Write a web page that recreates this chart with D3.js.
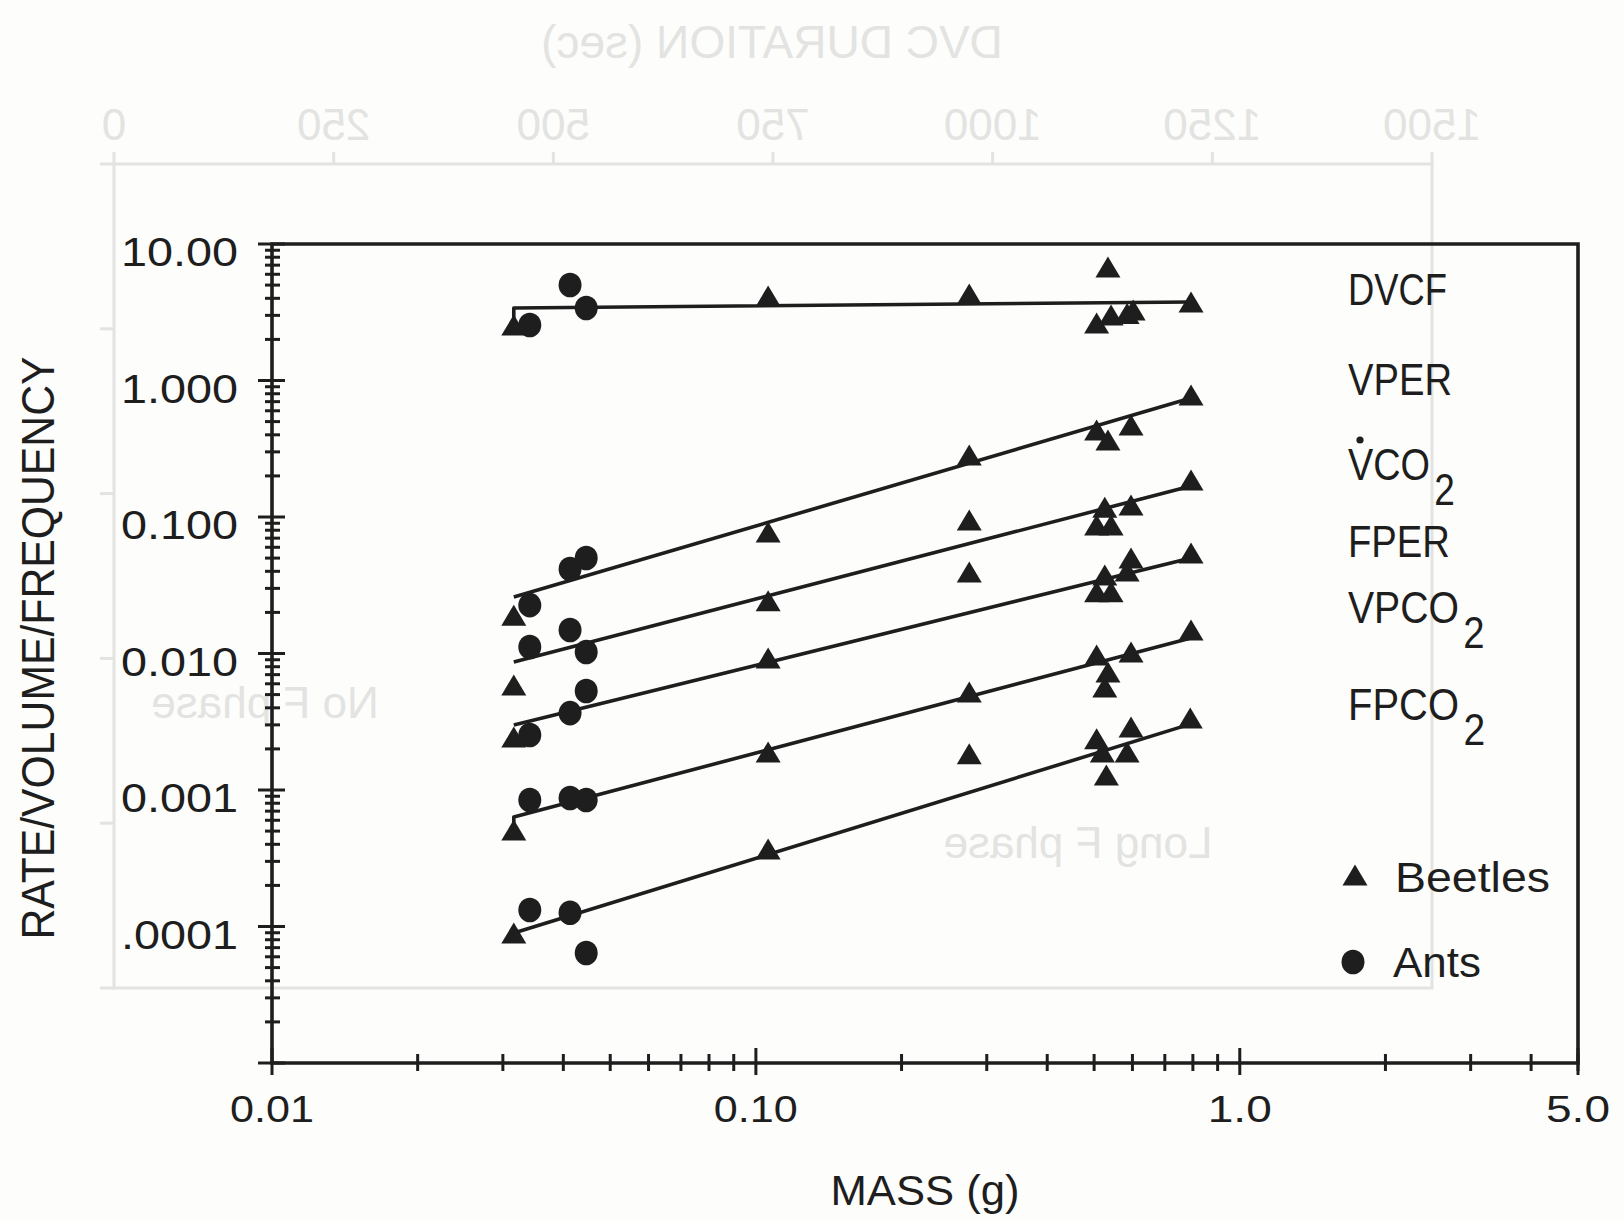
<!DOCTYPE html>
<html>
<head>
<meta charset="utf-8">
<title>Rate / volume / frequency vs mass</title>
<script src="https://cdn.jsdelivr.net/npm/d3@7/dist/d3.min.js"></script>
<style>
    html, body { margin: 0; padding: 0; background: #fdfdfc; }
    svg { display: block; }
    text { font-family: "Liberation Sans", Arial, sans-serif; fill: #1e1e1e; }
</style>
</head>
<body>
<div id="chart"></div>
<script>
/* --- Data (mass in g, value on log axis) --- */

// DVCF
const dvcfBeetles = [[0.0316, 2.55], [0.106, 4.16], [0.276, 4.31], [0.506, 2.64], [0.534, 6.78],
    [0.542, 3.02], [0.585, 3.10], [0.602, 3.28], [0.793, 3.76]];
const dvcfAnts = [[0.0341, 2.55], [0.0413, 5.01], [0.0446, 3.40]];
const dvcfFit = [[0.0316, 2.87], [0.0316, 3.40], [0.793, 3.76]];

// VPER
const vperBeetles = [[0.0316, 0.0191], [0.106, 0.0776], [0.276, 0.285], [0.506, 0.434],
    [0.534, 0.366], [0.596, 0.472], [0.793, 0.783]];
const vperAnts = [[0.0341, 0.0226], [0.0413, 0.0416], [0.0446, 0.0501]];
const vperFit = [[0.0316, 0.0259], [0.793, 0.745]];

// VCO2
const vco2Beetles = [[0.0316, 0.00588], [0.106, 0.0243], [0.276, 0.0951], [0.506, 0.0874],
    [0.526, 0.118], [0.542, 0.0874], [0.596, 0.1225], [0.793, 0.1866]];
const vco2Ants = [[0.0341, 0.01117], [0.0413, 0.01486], [0.0446, 0.01025]];
const vco2Fit = [[0.0316, 0.00867], [0.793, 0.1686]];

// FPER
const fperBeetles = [[0.0316, 0.00244], [0.106, 0.00927], [0.276, 0.0395], [0.506, 0.0283],
    [0.526, 0.0376], [0.542, 0.0283], [0.585, 0.0402], [0.596, 0.0501], [0.793, 0.0545]];
const fperAnts = [[0.0341, 0.00253], [0.0413, 0.00366], [0.0446, 0.00531]];
const fperFit = [[0.0316, 0.00299], [0.793, 0.0501]];

// VPCO2
const vpco2Beetles = [[0.0316, 0.000509], [0.106, 0.0019], [0.276, 0.00522], [0.506, 0.00975],
    [0.526, 0.00569], [0.534, 0.00731], [0.596, 0.01025], [0.793, 0.01486]];
const vpco2Ants = [[0.0341, 0.000845], [0.0413, 0.000873], [0.0446, 0.000845]];
const vpco2Fit = [[0.0316, 0.000536], [0.0316, 0.000634], [0.793, 0.0130]];

// FPCO2
const fpco2Beetles = [[0.0316, 0.0000895], [0.106, 0.00037], [0.276, 0.00184], [0.506, 0.00237],
    [0.52, 0.0019], [0.53, 0.00129], [0.585, 0.0019], [0.596, 0.0029], [0.79, 0.00337]];
const fpco2Ants = [[0.0341, 0.000132], [0.0413, 0.000126], [0.0446, 0.000064]];
const fpco2Fit = [[0.0316, 0.0000895], [0.793, 0.00305]];

// Axes
const xTickValues = [0.01, 0.1, 1, 5];
const xTickLabels = ["0.01", "0.10", "1.0", "5.0"];
const yTickValues = [10, 1, 0.1, 0.01, 0.001, 0.0001];
const yTickLabels = ["10.00", "1.000", "0.100", "0.010", "0.001", ".0001"];
const seriesNames = ["DVCF", "VPER", "VCO", "FPER", "VPCO", "FPCO"];
const seriesSubs = ["", "", "2", "", "2", "2"];
const groupNames = ["Beetles", "Ants"];

// faint print-through from the reverse side of the page (mirrored)
const ghostTicks = [0, 250, 500, 750, 1000, 1250, 1500];
const ghostLeftTicks = [0, 40, 80, 120, 160, 200];
const ghostTitle = "DVC DURATION (sec)";
const ghostNotes = ["No F phase", "Long F phase"];

/* --- Layout --- */
const CONFIG = {
    width: 1624,
    height: 1220,
    plot: { left: 272, right: 1578, top: 244, bottom: 1063 },
    ghost: { left: 114, right: 1432, top: 164, bottom: 988 },
    ink: '#1e1e1e',
    ghostInk: '#e3e3e1',
    stroke: 3.6,
    tri: { w: 25, h: 21 },
    dotR: 11.5
};

const Chart = {
    init() {
        const P = CONFIG.plot;
        this.svg = d3.select("#chart").append("svg")
            .attr("width", CONFIG.width)
            .attr("height", CONFIG.height)
            .attr("viewBox", `0 0 ${CONFIG.width} ${CONFIG.height}`);

        this.svg.append("rect")
            .attr("width", CONFIG.width).attr("height", CONFIG.height)
            .attr("fill", "#fdfdfc");

        this.x = d3.scaleLog().domain([0.01, 5]).range([P.left, P.right]);
        this.y = d3.scaleLog().domain([1e-5, 10]).range([P.bottom, P.top]);

        this.drawGhost();
        this.drawFrame();
        this.drawAxes();
        this.drawSeries();
        this.drawLabels();
    },

    // squeeze / stretch a text node to a target width
    fit(sel, len) {
        sel.attr("textLength", len).attr("lengthAdjust", "spacingAndGlyphs");
        return sel;
    },

    drawGhost() {
        const G = CONFIG.ghost;
        const g = this.svg.append("g");
        const gx = d3.scaleLinear().domain([0, 1500]).range([G.left, G.right]);
        const gy = d3.scaleLinear().domain([0, 200]).range([G.top, G.bottom]);

        g.append("rect")
            .attr("x", G.left).attr("y", G.top)
            .attr("width", G.right - G.left).attr("height", G.bottom - G.top)
            .attr("fill", "none")
            .attr("stroke", CONFIG.ghostInk)
            .attr("stroke-width", 3);

        g.selectAll(".gt").data(ghostTicks).enter().append("line")
            .attr("x1", d => gx(d)).attr("x2", d => gx(d))
            .attr("y1", G.top).attr("y2", G.top - 12)
            .attr("stroke", CONFIG.ghostInk).attr("stroke-width", 3);

        g.selectAll(".gl").data(ghostLeftTicks).enter().append("line")
            .attr("x1", G.left).attr("x2", G.left - 14)
            .attr("y1", d => gy(d)).attr("y2", d => gy(d))
            .attr("stroke", CONFIG.ghostInk).attr("stroke-width", 3);

        g.selectAll(".gtl").data(ghostTicks).enter().append("text")
            .attr("transform", d => `translate(${gx(d)},140) scale(-1,1)`)
            .attr("text-anchor", "middle")
            .attr("font-size", 44)
            .style("fill", CONFIG.ghostInk)
            .text(d => d);

        g.append("text")
            .attr("transform", "translate(772,58) scale(-1,1)")
            .attr("text-anchor", "middle")
            .attr("font-size", 46)
            .style("fill", CONFIG.ghostInk)
            .text(ghostTitle);

        [[265, 718], [1078, 858]].forEach((p, i) => {
            g.append("text")
                .attr("transform", `translate(${p[0]},${p[1]}) scale(-1,1)`)
                .attr("text-anchor", "middle")
                .attr("font-size", 44)
                .style("fill", CONFIG.ghostInk)
                .text(ghostNotes[i]);
        });
    },

    drawFrame() {
        const P = CONFIG.plot;
        this.svg.append("path")
            .attr("d", `M${P.left},${P.bottom}V${P.top}H${P.right}V${P.bottom}Z`)
            .attr("fill", "none")
            .attr("stroke", CONFIG.ink)
            .attr("stroke-width", CONFIG.stroke);
    },

    drawAxes() {
        const P = CONFIG.plot;
        const g = this.svg.append("g").attr("stroke", CONFIG.ink).attr("stroke-width", 3);

        // y ticks: every 1..9 x 10^n, majors longer, crossing the axis
        const yTicks = [];
        for (let e = -5; e <= 0; e++) {
            for (let k = 1; k <= 9; k++) yTicks.push({ v: k * Math.pow(10, e), major: k === 1 });
        }
        yTicks.push({ v: 10, major: true });
        g.selectAll(".ytick").data(yTicks).enter().append("line")
            .attr("x1", d => P.left - (d.major ? 14 : 7))
            .attr("x2", d => P.left + (d.major ? 13 : 8))
            .attr("y1", d => this.y(d.v))
            .attr("y2", d => this.y(d.v));

        // x ticks
        const xTicks = [];
        for (let e = -2; e <= 0; e++) {
            for (let k = 1; k <= 9; k++) {
                const v = k * Math.pow(10, e);
                if (v <= 5) xTicks.push({ v: v, major: k === 1 });
            }
        }
        xTicks.push({ v: 5, major: true });
        g.selectAll(".xtick").data(xTicks).enter().append("line")
            .attr("x1", d => this.x(d.v))
            .attr("x2", d => this.x(d.v))
            .attr("y1", d => P.bottom - (d.major ? 15 : 9))
            .attr("y2", d => P.bottom + (d.major ? 12 : 8));

        // tick labels
        this.svg.selectAll(".ylab").data(yTickValues).enter().append("text")
            .attr("x", 238)
            .attr("y", d => this.y(d) + 22)
            .attr("text-anchor", "end")
            .attr("font-size", 41)
            .text((d, i) => yTickLabels[i])
            .each(function () { Chart.fit(d3.select(this), 117); });

        this.svg.selectAll(".xlab").data(xTickValues).enter().append("text")
            .attr("x", d => this.x(d))
            .attr("y", 1122)
            .attr("text-anchor", "middle")
            .attr("font-size", 36)
            .text((d, i) => xTickLabels[i])
            .each(function (d, i) { Chart.fit(d3.select(this), xTickLabels[i].length > 3 ? 84 : 64); });

        // axis titles
        this.fit(this.svg.append("text")
            .attr("x", 925).attr("y", 1205)
            .attr("text-anchor", "middle")
            .attr("font-size", 42)
            .text("MASS (g)"), 189);

        this.fit(this.svg.append("text")
            .attr("transform", "translate(54,648) rotate(-90)")
            .attr("text-anchor", "middle")
            .attr("font-size", 46)
            .text("RATE/VOLUME/FREQUENCY"), 583);
    },

    triangle(x, y) {
        const { w, h } = CONFIG.tri;
        return `M${x},${y - h / 2}L${x + w / 2},${y + h / 2}L${x - w / 2},${y + h / 2}Z`;
    },

    drawSeries() {
        const series = [
            { beetles: dvcfBeetles, ants: dvcfAnts, fit: dvcfFit },
            { beetles: vperBeetles, ants: vperAnts, fit: vperFit },
            { beetles: vco2Beetles, ants: vco2Ants, fit: vco2Fit },
            { beetles: fperBeetles, ants: fperAnts, fit: fperFit },
            { beetles: vpco2Beetles, ants: vpco2Ants, fit: vpco2Fit },
            { beetles: fpco2Beetles, ants: fpco2Ants, fit: fpco2Fit }
        ];

        const line = d3.line()
            .x(d => this.x(d[0]))
            .y(d => this.y(d[1]));

        const g = this.svg.append("g");

        series.forEach(s => {
            g.append("path")
                .datum(s.fit)
                .attr("d", line)
                .attr("fill", "none")
                .attr("stroke", CONFIG.ink)
                .attr("stroke-width", CONFIG.stroke)
                .attr("stroke-linejoin", "round");

            g.selectAll(null).data(s.ants).enter().append("ellipse")
                .attr("cx", d => this.x(d[0]))
                .attr("cy", d => this.y(d[1]))
                .attr("rx", CONFIG.dotR)
                .attr("ry", CONFIG.dotR + 0.8)
                .attr("fill", CONFIG.ink);

            g.selectAll(null).data(s.beetles).enter().append("path")
                .attr("d", d => this.triangle(this.x(d[0]), this.y(d[1])))
                .attr("fill", CONFIG.ink);
        });
    },

    drawLabels() {
        // series names, right side of the plot (subscript kept inside the same text)
        const rows = [
            { y: 305, len: 99 },
            { y: 395, len: 104 },
            { y: 480, len: 82 },
            { y: 557, len: 102 },
            { y: 623, len: 111 },
            { y: 720, len: 111 }
        ];
        const x0 = 1348;
        seriesNames.forEach((name, i) => {
            const r = rows[i];
            const t = this.svg.append("text")
                .attr("font-size", 45);
            const main = t.append("tspan").text(name);
            if (seriesSubs[i]) {
                t.append("tspan")
                    .attr("dx", 5).attr("dy", 25)
                    .attr("font-size", 44)
                    .text(seriesSubs[i]);
            }
            const sx = r.len / main.node().getComputedTextLength();
            t.attr("transform", `translate(${x0},${r.y}) scale(${sx},1)`);
        });
        // dot over the V of VCO2 (rate)
        this.svg.append("circle")
            .attr("cx", x0 + 12).attr("cy", 440).attr("r", 3.6)
            .attr("fill", CONFIG.ink);

        // legend
        this.svg.append("path")
            .attr("d", this.triangle(1355, 875))
            .attr("fill", CONFIG.ink);
        this.svg.append("ellipse")
            .attr("cx", 1353).attr("cy", 962)
            .attr("rx", CONFIG.dotR).attr("ry", CONFIG.dotR + 0.8)
            .attr("fill", CONFIG.ink);
        this.fit(this.svg.append("text")
            .attr("x", 1395).attr("y", 892)
            .attr("font-size", 43)
            .text(groupNames[0]), 155);
        this.fit(this.svg.append("text")
            .attr("x", 1393).attr("y", 977)
            .attr("font-size", 43)
            .text(groupNames[1]), 88);
    }
};

document.addEventListener('DOMContentLoaded', () => Chart.init());
</script>
</body>
</html>
